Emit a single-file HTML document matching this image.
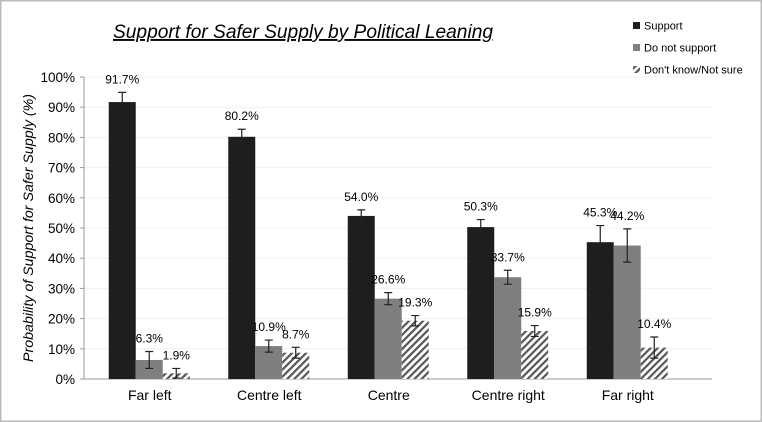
<!DOCTYPE html>
<html><head><meta charset="utf-8"><style>
body{margin:0;background:#fff;}
svg{display:block;font-family:"Liberation Sans",sans-serif;}
</style></head><body>
<svg id="chart" width="762" height="422" viewBox="0 0 762 422">
<defs>
<pattern id="hatch" patternUnits="userSpaceOnUse" width="5" height="5" patternTransform="rotate(45)">
<rect width="5" height="5" fill="#fff"/><rect width="2.2" height="5" fill="#555"/>
</pattern>
</defs>
<rect x="0.5" y="0.5" width="761" height="421" fill="#fff" stroke="#bbb" stroke-width="2"/>
<text x="303" y="38" text-anchor="middle" font-size="19" font-style="italic" text-decoration="underline" textLength="380" lengthAdjust="spacingAndGlyphs">Support for Safer Supply by Political Leaning</text>
<text transform="translate(33,228) rotate(-90)" text-anchor="middle" font-size="13.5" font-style="italic" textLength="268" lengthAdjust="spacingAndGlyphs">Probability of Support for Safer Supply (%)</text>
<g id="grid"></g><g id="bars"></g><g id="legend"></g>
</svg>
<script>
const categories=["Far left","Centre left","Centre","Centre right","Far right"];
const seriesNames=["Support","Do not support","Don't know/Not sure"];
const support=[91.7,80.2,54.0,50.3,45.3];
const notSupport=[6.3,10.9,26.6,33.7,44.2];
const dontKnow=[1.9,8.7,19.3,15.9,10.4];
const supportErr=[3.2,2.5,2.0,2.5,5.5];
const notSupportErr=[2.8,2.0,2.0,2.3,5.5];
const dontKnowErr=[1.6,1.8,1.7,1.8,3.5];
const yTicks=[0,10,20,30,40,50,60,70,80,90,100];
const NS="http://www.w3.org/2000/svg";
const y0=379,y100=77,x0=84,xEnd=712,catW=119.5,catStart=90,bw=27;
function yS(v){return y0-(y0-y100)*v/100;}
function xC(i){return catStart+(i+0.5)*catW;}
function mk(t,a,p){const e=document.createElementNS(NS,t);for(const k in a)e.setAttribute(k,a[k]);p.appendChild(e);return e;}
const grid=document.getElementById('grid'),bars=document.getElementById('bars'),leg=document.getElementById('legend');
yTicks.forEach(t=>{
 const y=yS(t);
 if(t>0){const g=mk('line',{x1:x0,x2:xEnd,y1:y,y2:y,stroke:'#f0f0f0','stroke-width':1},grid);
 
 }
 const tk=mk('line',{x1:x0-4,x2:x0,y1:y,y2:y,stroke:'#999'},grid);
 
 
 const l=mk('text',{x:x0-9,y:y+5,'text-anchor':'end','font-size':13.5},grid);l.textContent=t+'%';
 
 
});
const ax=mk('line',{x1:x0,x2:x0,y1:y100,y2:y0,stroke:'#999'},grid);


const xa=mk('line',{x1:x0,x2:xEnd,y1:y0,y2:y0,stroke:'#999'},grid);


const series=[support,notSupport,dontKnow],errs=[supportErr,notSupportErr,dontKnowErr],fills=['#1e1e1e','#7f7f7f','url(#hatch)'];
categories.forEach((c,i)=>{
 const cx=xC(i);
 series.forEach((s,j)=>{
  const x=cx-41+j*bw,v=s[i],e=errs[j][i],mx=x+bw/2;
  const r=mk('rect',{x:x,y:yS(v),width:bw,height:y0-yS(v),fill:fills[j]},bars);
  
  
  const eb=mk('path',{d:`M${mx-4},${yS(v+e)}H${mx+4}M${mx},${yS(v+e)}V${yS(Math.max(v-e,0))}M${mx-4},${yS(Math.max(v-e,0))}H${mx+4}`,stroke:'#222','stroke-width':1.2,fill:'none'},bars);
  
  
  const t=mk('text',{x:mx,y:yS(v+e)-9,'text-anchor':'middle','font-size':12},bars);t.textContent=v.toFixed(1)+'%';
  
  
 });
 const cl=mk('text',{x:cx,y:400,'text-anchor':'middle','font-size':14},bars);cl.textContent=c;
 
 
});
seriesNames.forEach((n,j)=>{
 const y=26+j*22;
 const r=mk('rect',{x:633,y:y-4,width:7,height:7,fill:fills[j]},leg);
 
 
 const t=mk('text',{x:644,y:y+3.5,'font-size':11},leg);t.textContent=n;
 
 
});
</script>
</body></html>
